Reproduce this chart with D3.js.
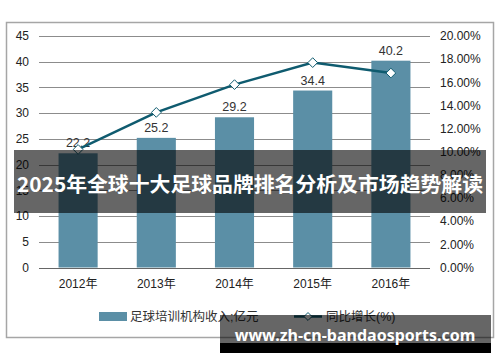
<!DOCTYPE html>
<html>
<head>
<meta charset="utf-8">
<script src="https://cdn.jsdelivr.net/npm/d3@7"></script>
<style>
  body { margin: 0; background: #fff; }
  svg { display: block; }
</style>
</head>
<body>
<svg width="500" height="362"></svg>
<script>
var years = ['2012年', '2013年', '2014年', '2015年', '2016年'];
var revenue = [22.2, 25.2, 29.2, 34.4, 40.2];
var growth = [0.102, 0.134, 0.158, 0.177, 0.168];
var leftTicks = [0, 5, 10, 15, 20, 25, 30, 35, 40, 45];
var rightTicks = [0, 0.02, 0.04, 0.06, 0.08, 0.10, 0.12, 0.14, 0.16, 0.18, 0.20];
var barName = '足球培训机构收入;亿元';
var lineName = '同比增长(%)';
var title = '2025年全球十大足球品牌排名分析及市场趋势解读';
var site = 'www.zh-cn-bandaosports.com';

const svg = d3.select('svg');
const font = 'Arial, "Liberation Sans", "Noto Sans CJK SC", sans-serif';
const barColor = '#5b8fa6';
const lineColor = '#0f5b6f';

// outer frame
svg.append('rect')
  .attr('x', 6.5).attr('y', 22.5).attr('width', 487).attr('height', 315)
  .attr('fill', '#fff').attr('stroke', '#a6a6a6').attr('stroke-width', 1.5);

const x = d3.scaleBand().domain(years).range([39, 430]).paddingInner(0.5).paddingOuter(0.25);
const yL = d3.scaleLinear().domain([0, 45]).range([267.5, 36]);
const yR = d3.scaleLinear().domain([0, 0.2]).range([267.5, 36]);

// grid lines
svg.append('g')
  .selectAll('line')
  .data(leftTicks)
  .join('line')
  .attr('x1', 39).attr('x2', 430)
  .attr('y1', d => Math.round(yL(d)) + 0.5).attr('y2', d => Math.round(yL(d)) + 0.5)
  .attr('stroke', d => d === 0 ? '#666' : '#8c8c8c')
  .attr('stroke-width', 1);

// left axis labels
svg.append('g')
  .attr('font-family', font).attr('font-size', 12).attr('fill', '#222')
  .selectAll('text')
  .data(leftTicks)
  .join('text')
  .attr('x', 29).attr('y', d => yL(d))
  .attr('dy', '0.35em').attr('text-anchor', 'end')
  .text(d => d);

// right axis labels
svg.append('g')
  .attr('font-family', font).attr('font-size', 12).attr('fill', '#222')
  .selectAll('text')
  .data(rightTicks)
  .join('text')
  .attr('x', 440).attr('y', d => yR(d))
  .attr('dy', '0.35em')
  .text(d => (d * 100).toFixed(2) + '%');

// bars
svg.append('g')
  .selectAll('rect')
  .data(revenue)
  .join('rect')
  .attr('x', (d, i) => x(years[i]))
  .attr('y', d => yL(d))
  .attr('width', x.bandwidth())
  .attr('height', d => yL(0) - yL(d))
  .attr('fill', barColor);

// x labels
svg.append('g')
  .attr('font-family', font).attr('font-size', 12).attr('fill', '#222')
  .selectAll('text')
  .data(years)
  .join('text')
  .attr('x', d => x(d) + x.bandwidth() / 2)
  .attr('y', 288)
  .attr('text-anchor', 'middle')
  .text(d => d);

// bar value labels
svg.append('g')
  .attr('font-family', font).attr('font-size', 12.5).attr('fill', '#333')
  .selectAll('text')
  .data(revenue)
  .join('text')
  .attr('x', (d, i) => x(years[i]) + x.bandwidth() / 2)
  .attr('y', d => yL(d) - 6)
  .attr('text-anchor', 'middle')
  .text(d => d.toFixed(1));

// growth line
const line = d3.line()
  .x((d, i) => x(years[i]) + x.bandwidth() / 2)
  .y(d => yR(d));
svg.append('path')
  .datum(growth)
  .attr('d', line)
  .attr('fill', 'none')
  .attr('stroke', lineColor)
  .attr('stroke-width', 2.5);

const diamond = d3.symbol().type(d3.symbolDiamond2).size(60);
svg.append('g')
  .selectAll('path')
  .data(growth)
  .join('path')
  .attr('transform', (d, i) => `translate(${x(years[i]) + x.bandwidth() / 2},${yR(d)})`)
  .attr('d', diamond)
  .attr('fill', '#fff')
  .attr('stroke', lineColor)
  .attr('stroke-width', 1);

// legend
const legend = svg.append('g').attr('font-family', font).attr('font-size', 12.5).attr('fill', '#333');
legend.append('rect').attr('x', 99).attr('y', 312).attr('width', 28).attr('height', 9).attr('fill', barColor);
legend.append('text').attr('x', 130).attr('y', 316.5).attr('dy', '0.35em').text(barName);
legend.append('line').attr('x1', 294).attr('x2', 322).attr('y1', 316.5).attr('y2', 316.5)
  .attr('stroke', lineColor).attr('stroke-width', 2.5);
legend.append('path').attr('transform', 'translate(308,316.5)')
  .attr('d', d3.symbol().type(d3.symbolDiamond2).size(40))
  .attr('fill', '#fff').attr('stroke', lineColor);
legend.append('text').attr('x', 326).attr('y', 316.5).attr('dy', '0.35em').text(lineName);

// title overlay band
svg.append('rect')
  .attr('x', 14).attr('y', 150).attr('width', 472).attr('height', 63)
  .attr('fill', '#000').attr('fill-opacity', 0.6);
svg.append('text')
  .attr('x', 250).attr('y', 185)
  .attr('dy', '0.35em').attr('text-anchor', 'middle')
  .attr('font-family', '"Noto Sans CJK SC", "Noto Sans", sans-serif')
  .attr('font-weight', 'bold').attr('font-size', 20.5).attr('fill', '#fff')
  .attr('textLength', 466).attr('lengthAdjust', 'spacingAndGlyphs')
  .text(title);

// site watermark
svg.append('rect')
  .attr('x', 220).attr('y', 315).attr('width', 271).attr('height', 28)
  .attr('fill', '#000').attr('fill-opacity', 0.6);
svg.append('rect')
  .attr('x', 220).attr('y', 343).attr('width', 271).attr('height', 10)
  .attr('fill', '#000');
svg.append('text')
  .attr('x', 355).attr('y', 335)
  .attr('dy', '0.35em').attr('text-anchor', 'middle')
  .attr('font-family', '"Noto Sans", "DejaVu Sans", sans-serif')
  .attr('font-weight', 'bold').attr('font-size', 16).attr('fill', '#fff')
  .text(site);
</script>
</body>
</html>
